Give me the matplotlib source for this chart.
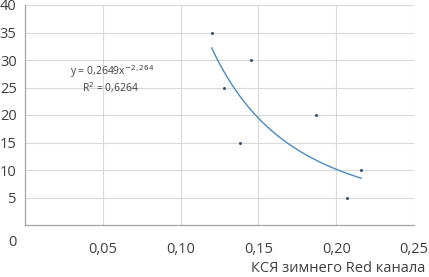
import numpy as np
import matplotlib.pyplot as plt

# КСЯ зимнего Red канала vs значение
ksya = [0.120, 0.145, 0.128, 0.138, 0.187, 0.216, 0.207]
vals = [35, 30, 25, 15, 20, 10, 5]
coef_a = 0.2649
coef_b = -2.264
x_ticks = [0.05, 0.10, 0.15, 0.20, 0.25]
x_tick_labels = ['0,05', '0,10', '0,15', '0,20', '0,25']
y_ticks = [5, 10, 15, 20, 25, 30, 35, 40]

plt.rcParams['font.family'] = ['Open Sans', 'DejaVu Sans']

fig = plt.figure(figsize=(4.29, 2.77), dpi=100)
ax = fig.add_axes([25 / 429, 1 - 225 / 277, (414 - 25) / 429, (225 - 5) / 277])

ax.set_xlim(0, 0.25)
ax.set_ylim(0, 40)

xs = np.linspace(min(ksya), max(ksya), 200)
ax.plot(xs, coef_a * xs ** coef_b, color='#4a8bc2', lw=1.0, zorder=3)
ax.scatter(ksya, vals, s=5, color='#3f5773', zorder=4, linewidths=0)

ax.set_xticks(x_ticks)
ax.set_xticklabels(x_tick_labels)
ax.set_yticks(y_ticks)
ax.grid(True, color='#d9d9d9', lw=0.8)
ax.set_axisbelow(True)
ax.tick_params(length=0, labelsize=10.5, colors='#404040')
ax.tick_params(axis='x', pad=12)
ax.tick_params(axis='y', pad=6)
for s in ['top', 'right']:
    ax.spines[s].set_visible(False)
for s in ['left', 'bottom']:
    ax.spines[s].set_color('#a6a6a6')
    ax.spines[s].set_linewidth(0.9)

fig.text(12 / 429, 1 - 243 / 277, '0', fontsize=10.5, color='#404040',
         ha='center', va='center')

ax.text(0.056, 27.8, 'y = 0,2649x$^{-2,264}$', fontsize=7.5, color='#404040',
        ha='center', va='center')
ax.text(0.055, 24.9, 'R$^2$ = 0,6264', fontsize=7.5, color='#404040',
        ha='center', va='center')

fig.text(425 / 429, 1 - 268 / 277, 'КСЯ зимнего Red канала', fontsize=10.5,
         color='#404040', ha='right', va='center')

fig.savefig('out.png', dpi=100)
